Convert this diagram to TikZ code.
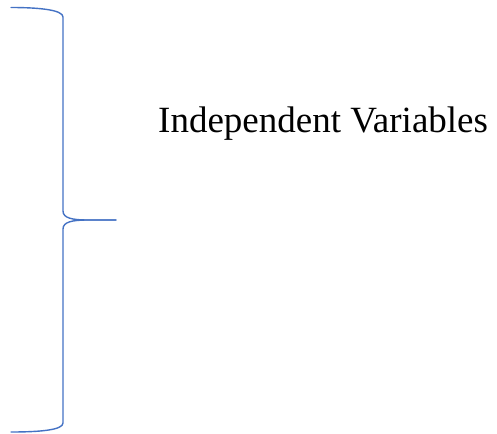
\documentclass[tikz,border=0pt]{standalone}
\usepackage{fontspec}
\setmainfont{Liberation Serif}
\definecolor{braceblue}{RGB}{68,114,196}
\tikzset{
  bracestroke/.style={draw=braceblue, line width=1.4pt, line cap=round, line join=round},
  labeltext/.style={font=\fontsize{37}{42}\selectfont, text=black, inner sep=0pt, anchor=base west}
}
\begin{document}
\begin{tikzpicture}[x=1pt,y=-1pt]
  \useasboundingbox (0,0) rectangle (497,433);
  % brace ends, corners and tip
  \coordinate (topend) at (11,7.5);
  \coordinate (topcorner) at (63,17);
  \coordinate (midupper) at (63,211);
  \coordinate (tip) at (116,220);
  \coordinate (midlower) at (63,229);
  \coordinate (botcorner) at (63,423);
  \coordinate (botend) at (11,432);
  % right curly brace
  \path[bracestroke]
    (topend) .. controls (40,7.5) and (63,10) .. (topcorner)
    -- (midupper) .. controls (63,218) and (72,220) .. (88,220) -- (tip);
  \path[bracestroke]
    (tip) -- (88,220) .. controls (72,220) and (63,222) .. (midlower)
    -- (botcorner) .. controls (63,430) and (40,432) .. (botend);
  % label
  \node[labeltext] (label) at (158,132) {Independent Variables};
\end{tikzpicture}
\end{document}
